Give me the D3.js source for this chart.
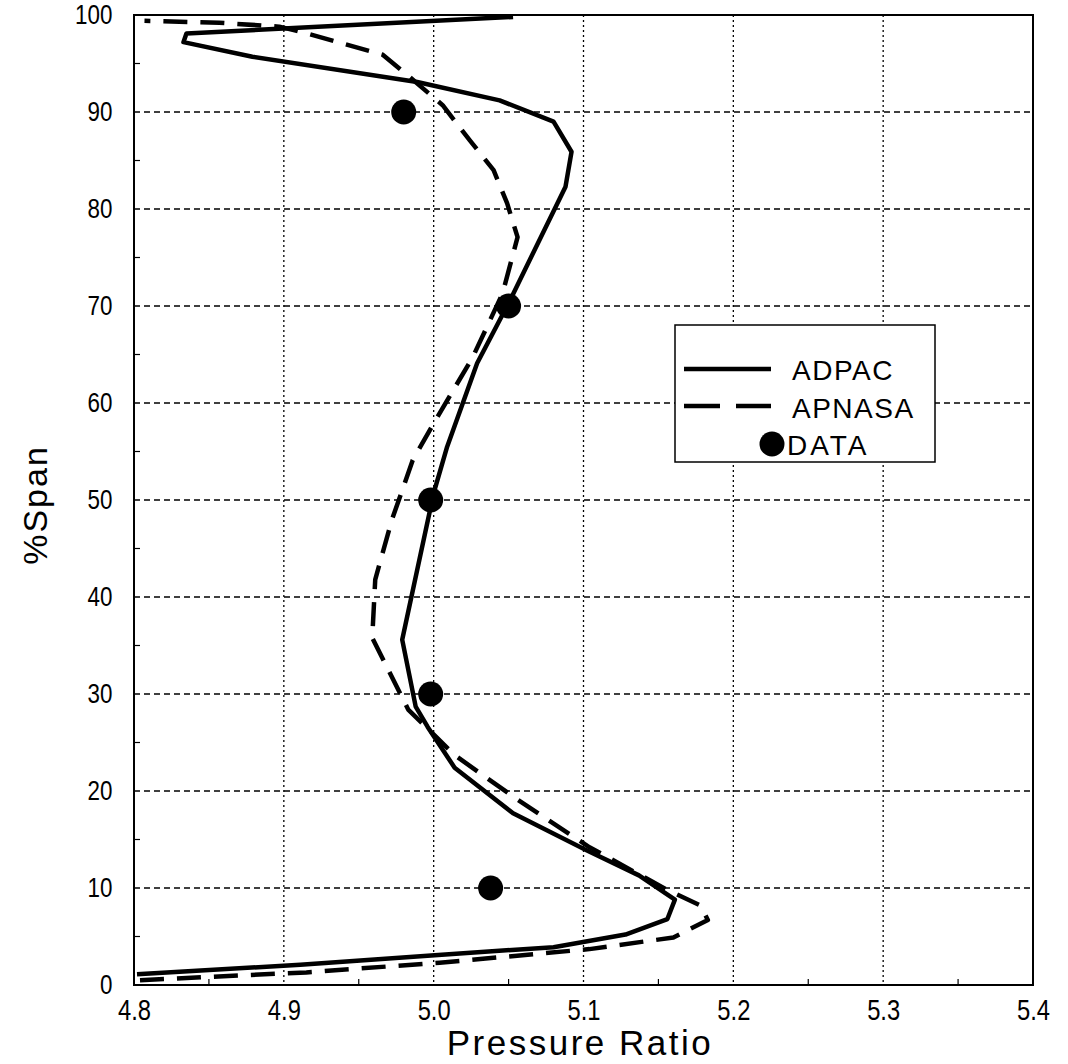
<!DOCTYPE html>
<html>
<head>
<meta charset="utf-8">
<script src="https://cdn.jsdelivr.net/npm/d3@7"></script>
<style>
  html, body { margin: 0; padding: 0; background: #fff; }
  svg { display: block; }
  text { font-family: "Liberation Sans", Arial, sans-serif; fill: #000; }
</style>
</head>
<body>
<svg id="chart" width="1068" height="1064"></svg>
<script>
// ADPAC computed spanwise pressure-ratio profile (hub to tip)
const adpacRatio = [4.802, 4.911, 5.003, 5.080, 5.128, 5.156, 5.161, 5.137, 5.102, 5.053, 5.014, 4.996, 4.988, 4.979, 5.000, 5.009, 5.029, 5.051, 5.088, 5.092, 5.080, 5.044, 4.989, 4.879, 4.833, 4.835, 5.053];
const adpacSpan  = [1.1, 2.1, 3.1, 3.9, 5.2, 6.8, 8.8, 11.3, 13.9, 17.7, 22.4, 26.6, 28.7, 35.6, 50.7, 55.5, 64.1, 70.6, 82.3, 85.9, 89.0, 91.2, 93.1, 95.7, 97.2, 98.1, 99.8];

// APNASA computed profile
const apnasaRatio = [4.804, 4.915, 5.004, 5.104, 5.160, 5.183, 5.178, 5.156, 5.104, 5.056, 5.014, 4.983, 4.959, 4.961, 4.972, 4.986, 5.000, 5.026, 5.046, 5.056, 5.049, 5.040, 5.024, 5.006, 4.984, 4.966, 4.913, 4.897, 4.857, 4.807];
const apnasaSpan  = [0.5, 1.3, 2.3, 3.7, 4.9, 6.7, 8.2, 9.8, 14.2, 19.1, 23.7, 28.4, 35.8, 41.8, 47.9, 54.1, 57.9, 64.7, 71.3, 77.1, 80.6, 84.0, 87.1, 90.7, 93.6, 95.9, 98.2, 98.8, 99.2, 99.4];

// Measured data
const dataRatio = [5.038, 4.998, 4.998, 5.050, 4.980];
const dataSpan  = [10, 30, 50, 70, 90];

// Axis ticks
const xTicks = [4.8, 4.9, 5.0, 5.1, 5.2, 5.3, 5.4];
const xTickLabels = ["4.8", "4.9", "5.0", "5.1", "5.2", "5.3", "5.4"];
const xMinor = [4.85, 4.95, 5.05, 5.15, 5.25, 5.35];
const yTicks = [0, 10, 20, 30, 40, 50, 60, 70, 80, 90, 100];
const yMinor = [5, 15, 25, 35, 45, 55, 65, 75, 85, 95];

const legendNames = ["ADPAC", "APNASA", "DATA"];

const svg = d3.select("#chart");
const plotL = 134, plotR = 1033, plotT = 15, plotB = 985;

const x = d3.scaleLinear().domain([4.8, 5.4]).range([plotL, plotR]);
const y = d3.scaleLinear().domain([0, 100]).range([plotB, plotT]);

// Grid: dotted verticals, dashed horizontals
svg.append("g").selectAll("line")
  .data(xTicks.slice(1, -1)).join("line")
  .attr("x1", d => x(d)).attr("x2", d => x(d))
  .attr("y1", plotT).attr("y2", plotB)
  .attr("stroke", "#000").attr("stroke-width", 1.3)
  .attr("stroke-dasharray", "2,3");

svg.append("g").selectAll("line")
  .data(yTicks.slice(1, -1)).join("line")
  .attr("x1", plotL).attr("x2", plotR)
  .attr("y1", d => y(d)).attr("y2", d => y(d))
  .attr("stroke", "#000").attr("stroke-width", 1.3)
  .attr("stroke-dasharray", "6,4");

// Minor ticks pointing into the plot
svg.append("g").selectAll("line")
  .data(yMinor).join("line")
  .attr("x1", plotL).attr("x2", plotL + 6)
  .attr("y1", d => y(d)).attr("y2", d => y(d))
  .attr("stroke", "#000").attr("stroke-width", 1.2);
svg.append("g").selectAll("line")
  .data(xMinor).join("line")
  .attr("x1", d => x(d)).attr("x2", d => x(d))
  .attr("y1", plotB).attr("y2", plotB - 6)
  .attr("stroke", "#000").attr("stroke-width", 1.2);

// Axes with labels only (the frame is drawn separately); narrow-looking digits
const xAxis = d3.axisBottom(x).tickValues(xTicks)
  .tickFormat((d, i) => xTickLabels[i]).tickSize(0).tickPadding(14);
const gx = svg.append("g").attr("transform", `translate(0,${plotB})`).call(xAxis);
gx.select(".domain").remove();
gx.selectAll("text")
  .attr("font-size", 29).attr("font-family", "'Liberation Sans', Arial, sans-serif")
  .attr("transform", "scale(0.82,1)");

const yAxis = d3.axisLeft(y).tickValues(yTicks).tickSize(0).tickPadding(27);
const gy = svg.append("g").attr("transform", `translate(${plotL},0)`).call(yAxis);
gy.select(".domain").remove();
gy.selectAll("text")
  .attr("font-size", 28).attr("font-family", "'Liberation Sans', Arial, sans-serif")
  .attr("transform", "scale(0.8,1)");

// Frame
svg.append("rect")
  .attr("x", plotL).attr("y", plotT)
  .attr("width", plotR - plotL).attr("height", plotB - plotT)
  .attr("fill", "none").attr("stroke", "#000").attr("stroke-width", 2);

// Axis titles
svg.append("text")
  .attr("x", 580).attr("y", 1055)
  .attr("text-anchor", "middle").attr("font-size", 35)
  .attr("letter-spacing", 2.5)
  .text("Pressure Ratio");
svg.append("text")
  .attr("transform", `translate(47,505) rotate(-90)`)
  .attr("text-anchor", "middle").attr("font-size", 34)
  .attr("letter-spacing", 2)
  .text("%Span");

// Profiles
const line = d3.line().x(d => x(d[0])).y(d => y(d[1]));
const plot = svg.append("g");
plot.append("path")
  .datum(adpacRatio.map((v, i) => [v, adpacSpan[i]]))
  .attr("d", line).attr("fill", "none")
  .attr("stroke", "#000").attr("stroke-width", 4.5)
  .attr("stroke-linejoin", "round");
plot.append("path")
  .datum(apnasaRatio.map((v, i) => [v, apnasaSpan[i]]))
  .attr("d", line).attr("fill", "none")
  .attr("stroke", "#000").attr("stroke-width", 4.5)
  .attr("stroke-dasharray", "24,13")
  .attr("stroke-linejoin", "round");
plot.selectAll("circle")
  .data(dataRatio.map((v, i) => [v, dataSpan[i]])).join("circle")
  .attr("cx", d => x(d[0])).attr("cy", d => y(d[1]))
  .attr("r", 12.5).attr("fill", "#000");

// Legend
const lg = svg.append("g").attr("transform", "translate(675,325)");
lg.append("rect").attr("width", 260).attr("height", 137)
  .attr("fill", "#fff").attr("stroke", "#000").attr("stroke-width", 1.5);
lg.append("line").attr("x1", 9).attr("x2", 96).attr("y1", 44).attr("y2", 44)
  .attr("stroke", "#000").attr("stroke-width", 4.5);
lg.append("line").attr("x1", 9).attr("x2", 96).attr("y1", 81).attr("y2", 81)
  .attr("stroke", "#000").attr("stroke-width", 4.5).attr("stroke-dasharray", "36,16");
lg.append("circle").attr("cx", 97).attr("cy", 119).attr("r", 12.5).attr("fill", "#000");
lg.selectAll("text.leg").data(legendNames).join("text")
  .attr("class", "leg")
  .attr("x", (d, i) => i === 2 ? 112 : 117)
  .attr("y", (d, i) => 55 + i * 37.5)
  .attr("font-size", 28)
  .attr("letter-spacing", (d, i) => i === 2 ? 3 : 1.5)
  .text(d => d);
</script>
</body>
</html>
